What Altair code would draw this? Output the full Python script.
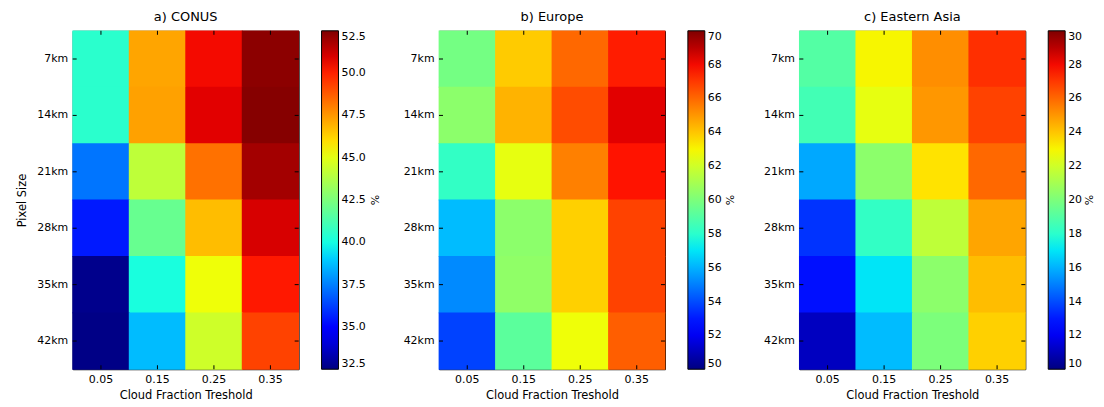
import altair as alt
import pandas as pd

cf_labels = ["0.05", "0.15", "0.25", "0.35"]
px_labels = ["7km", "14km", "21km", "28km", "35km", "42km"]

conus = [
    [40.5, 47.2, 50.5, 52.3],
    [40.5, 47.3, 50.8, 52.4],
    [37.3, 44.1, 48.3, 51.9],
    [35.5, 42.0, 46.7, 51.0],
    [32.7, 40.1, 45.3, 50.2],
    [32.6, 38.7, 44.5, 49.3],
]
europe = [
    [59.8, 63.9, 66.0, 67.6],
    [60.4, 64.4, 66.6, 68.3],
    [58.2, 62.6, 65.5, 67.8],
    [56.2, 60.4, 63.8, 66.8],
    [55.2, 60.5, 63.8, 66.8],
    [53.8, 59.2, 62.8, 66.2],
]
asia = [
    [19.0, 23.0, 25.2, 27.2],
    [18.6, 22.6, 25.0, 26.8],
    [15.8, 20.4, 23.4, 26.0],
    [13.5, 18.2, 21.6, 24.7],
    [12.8, 17.0, 20.4, 24.2],
    [11.1, 16.2, 20.0, 23.8],
]

titles = ["a) CONUS", "b) Europe", "c) Eastern Asia"]
ranges = [(32.5, 52.5), (50, 70), (10, 30)]
legend_ticks = [
    [32.5, 35.0, 37.5, 40.0, 42.5, 45.0, 47.5, 50.0, 52.5],
    [50, 52, 54, 56, 58, 60, 62, 64, 66, 68, 70],
    [10, 12, 14, 16, 18, 20, 22, 24, 26, 28, 30],
]
legend_fmt = [".1f", "d", "d"]
unit_offset = [78, 66, 65]
y_min_extent = [0, 0, 42]

# matplotlib "jet" colour map breakpoints
JET = {
    "r": [(0, 0), (0.35, 0), (0.66, 1), (0.89, 1), (1, 0.5)],
    "g": [(0, 0), (0.125, 0), (0.375, 1), (0.64, 1), (0.91, 0), (1, 0)],
    "b": [(0, 0.5), (0.11, 1), (0.34, 1), (0.65, 0), (1, 0)],
}
STOPS = sorted({s for k in JET for s, _ in JET[k]})


def chan(k, t):
    pts = JET[k]
    for (x0, y0), (x1, y1) in zip(pts[:-1], pts[1:]):
        if x0 <= t <= x1:
            return y0 + (y1 - y0) * (t - x0) / (x1 - x0)
    return pts[-1][1]


def jet_hex(t):
    return "#" + "".join("%02x" % round(255 * chan(k, t)) for k in "rgb")


JET_COLORS = [jet_hex(s) for s in STOPS]

W, H = 227, 340
FONT = "DejaVu Sans"


def panel(i, values, ytitle):
    lo, hi = ranges[i]
    rows = []
    for r, p in enumerate(px_labels):
        for c, f in enumerate(cf_labels):
            rows.append({"px": p, "cf": f, "v": values[r][c]})
    df = pd.DataFrame(rows)
    xenc = alt.X("cf:N", sort=cf_labels, title="Cloud Fraction Treshold",
                 scale=alt.Scale(paddingInner=0, paddingOuter=0),
                 axis=alt.Axis(labelAngle=0, ticks=False, labelPadding=4, titlePadding=5))
    yaxis = alt.Axis(ticks=False, labelPadding=5, titlePadding=9, minExtent=y_min_extent[i])
    yenc = alt.Y("px:N", sort=px_labels, title=ytitle if ytitle else None,
                 scale=alt.Scale(paddingInner=0, paddingOuter=0), axis=yaxis)
    dom = [lo + s * (hi - lo) for s in STOPS]
    heat = alt.Chart(df).mark_rect(
        width=W / len(cf_labels) + 0.8, height=H / len(px_labels) + 0.8
    ).encode(
        x=xenc,
        y=yenc,
        color=alt.Color(
            "v:Q",
            scale=alt.Scale(domain=dom, range=JET_COLORS, interpolate="rgb"),
            legend=alt.Legend(
                title=None, orient="right", direction="vertical",
                gradientLength=H, gradientThickness=17,
                gradientStrokeColor="black", gradientStrokeWidth=1,
                values=legend_ticks[i], format=legend_fmt[i],
                labelFont=FONT, labelFontSize=11, labelColor="black",
                labelOffset=3, labelOverlap=False, labelBaseline="middle",
                offset=23, padding=0,
            ),
        ),
    )
    xdf = pd.DataFrame({"cf": cf_labels})
    ydf = pd.DataFrame({"px": px_labels})
    xs = alt.X("cf:N", sort=cf_labels)
    ys = alt.Y("px:N", sort=px_labels)
    t1 = alt.Chart(xdf).mark_rule(color="black").encode(x=xs, y=alt.value(0), y2=alt.value(4))
    t2 = alt.Chart(xdf).mark_rule(color="black").encode(x=xs, y=alt.value(H - 4), y2=alt.value(H))
    t3 = alt.Chart(ydf).mark_rule(color="black").encode(y=ys, x=alt.value(0), x2=alt.value(4))
    t4 = alt.Chart(ydf).mark_rule(color="black").encode(y=ys, x=alt.value(W - 4), x2=alt.value(W))
    unit = alt.Chart(pd.DataFrame({"u": ["%"]})).mark_text(
        angle=270, font=FONT, fontSize=11, color="black", baseline="middle"
    ).encode(text="u:N", x=alt.value(W + unit_offset[i]), y=alt.value(H / 2))
    return alt.layer(heat, t1, t2, t3, t4, unit).properties(
        width=W, height=H,
        title=alt.TitleParams(titles[i], fontSize=13, fontWeight="normal",
                              font=FONT, color="black", offset=6),
    )


chart = alt.hconcat(
    panel(0, conus, "Pixel Size"),
    panel(1, europe, None),
    panel(2, asia, None),
    spacing=20,
).resolve_scale(color="independent").properties(
    padding={"left": 8, "top": 2, "right": 0, "bottom": 0},
    background="white",
).configure_view(stroke="black", strokeWidth=1).configure_axis(
    grid=False, domain=False, labelFont=FONT, labelFontSize=11,
    labelColor="black", titleFont=FONT, titleFontSize=11.5,
    titleFontWeight="normal", titleColor="black",
)

chart.save("out.html", embed_options={"renderer": "svg", "actions": False})
